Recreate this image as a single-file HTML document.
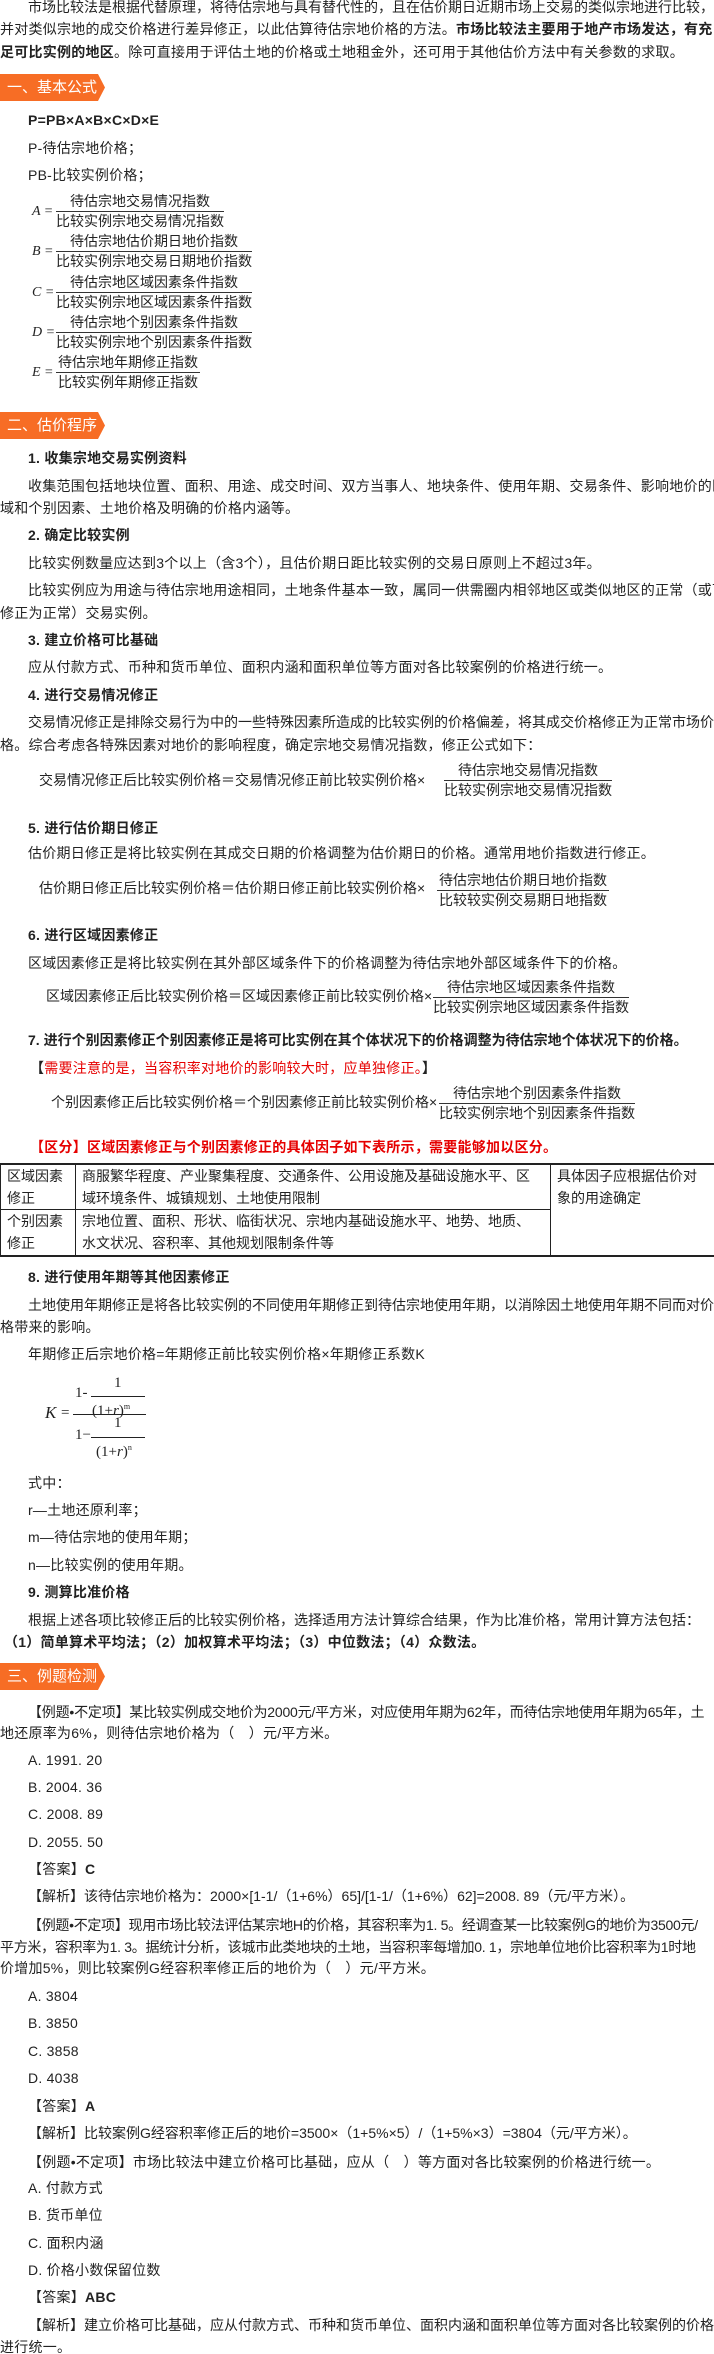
<!DOCTYPE html>
<html><head><meta charset="utf-8"><style>
body{margin:0;background:#fff;}
#p{position:relative;width:714px;height:2354px;overflow:hidden;font-family:"Liberation Sans","Noto Sans CJK SC",sans-serif;color:#222;}
.t{position:absolute;line-height:22px;white-space:nowrap;font-size:14px;letter-spacing:.25px;}
.b{font-weight:bold;}
.z{letter-spacing:0;}
.bn{position:absolute;left:0;width:105px;height:27px;background:#f76d25;clip-path:polygon(0 0,98px 0,105px 50%,98px 100%,0 100%);color:#fff;font-size:15px;line-height:27px;padding-left:7px;box-sizing:border-box;white-space:nowrap;}
.fr{position:absolute;display:inline-block;text-align:center;font-size:14px;white-space:nowrap;}
.fr div{line-height:19px;}
.fr .n{border-bottom:1px solid #333;padding:0 2px;}
.lab{position:absolute;font-family:"Liberation Serif",serif;font-style:italic;font-size:14px;line-height:20px;}
.red{color:#e60000;}
table{position:absolute;left:0;top:1163px;width:714px;border-collapse:collapse;font-size:14px;letter-spacing:0;table-layout:fixed;}
td{border:1px solid #222;line-height:22px;padding:0 6px;vertical-align:top;white-space:nowrap;overflow:hidden;}
.s{position:absolute;font-family:"Liberation Serif",serif;font-size:15px;line-height:16px;white-space:nowrap;}
</style></head><body><div id="p">

<div class="t z" style="left:28px;top:-4px">市场比较法是根据代替原理，将待估宗地与具有替代性的，且在估价期日近期市场上交易的类似宗地进行比较，</div>
<div class="t" style="left:0;top:18px">并对类似宗地的成交价格进行差异修正，以此估算待估宗地价格的方法。<b>市场比较法主要用于地产市场发达，有充</b></div>
<div class="t" style="left:0;top:41px"><b>足可比实例的地区</b>。除可直接用于评估土地的价格或土地租金外，还可用于其他估价方法中有关参数的求取。</div>

<div class="bn" style="top:74px">一、基本公式</div>
<div class="t b" style="left:28px;top:109px">P=PB×A×B×C×D×E</div>
<div class="t" style="left:28px;top:137px">P-待估宗地价格；</div>
<div class="t" style="left:28px;top:164px">PB-比较实例价格；</div>

<div class="lab" style="left:32px;top:202px">A =</div>
<div class="fr" style="left:56px;top:192px"><div class="n">待估宗地交易情况指数</div><div>比较实例宗地交易情况指数</div></div>
<div class="lab" style="left:32px;top:242px">B =</div>
<div class="fr" style="left:56px;top:232px"><div class="n">待估宗地估价期日地价指数</div><div>比较实例宗地交易日期地价指数</div></div>
<div class="lab" style="left:32px;top:283px">C =</div>
<div class="fr" style="left:56px;top:273px"><div class="n">待估宗地区域因素条件指数</div><div>比较实例宗地区域因素条件指数</div></div>
<div class="lab" style="left:32px;top:323px">D =</div>
<div class="fr" style="left:56px;top:313px"><div class="n">待估宗地个别因素条件指数</div><div>比较实例宗地个别因素条件指数</div></div>
<div class="lab" style="left:32px;top:363px">E =</div>
<div class="fr" style="left:56px;top:353px"><div class="n">待估宗地年期修正指数</div><div>比较实例年期修正指数</div></div>

<div class="bn" style="top:412px">二、估价程序</div>
<div class="t b" style="left:28px;top:447px">1. 收集宗地交易实例资料</div>
<div class="t" style="left:28px;top:475px">收集范围包括地块位置、面积、用途、成交时间、双方当事人、地块条件、使用年期、交易条件、影响地价的区</div>
<div class="t" style="left:0;top:497px">域和个别因素、土地价格及明确的价格内涵等。</div>
<div class="t b" style="left:28px;top:524px">2. 确定比较实例</div>
<div class="t" style="left:28px;top:552px">比较实例数量应达到3个以上（含3个），且估价期日距比较实例的交易日原则上不超过3年。</div>
<div class="t" style="left:28px;top:579px">比较实例应为用途与待估宗地用途相同，土地条件基本一致，属同一供需圈内相邻地区或类似地区的正常（或可</div>
<div class="t" style="left:0;top:602px">修正为正常）交易实例。</div>
<div class="t b" style="left:28px;top:629px">3. 建立价格可比基础</div>
<div class="t" style="left:28px;top:656px">应从付款方式、币种和货币单位、面积内涵和面积单位等方面对各比较案例的价格进行统一。</div>
<div class="t b" style="left:28px;top:684px">4. 进行交易情况修正</div>
<div class="t z" style="left:28px;top:711px">交易情况修正是排除交易行为中的一些特殊因素所造成的比较实例的价格偏差，将其成交价格修正为正常市场价</div>
<div class="t" style="left:0;top:734px">格。综合考虑各特殊因素对地价的影响程度，确定宗地交易情况指数，修正公式如下：</div>
<div class="t z" style="left:39px;top:769px">交易情况修正后比较实例价格＝交易情况修正前比较实例价格×</div>
<div class="fr" style="left:444px;top:761px"><div class="n">待估宗地交易情况指数</div><div>比较实例宗地交易情况指数</div></div>

<div class="t b" style="left:28px;top:817px">5. 进行估价期日修正</div>
<div class="t" style="left:28px;top:842px">估价期日修正是将比较实例在其成交日期的价格调整为估价期日的价格。通常用地价指数进行修正。</div>
<div class="t z" style="left:39px;top:877px">估价期日修正后比较实例价格＝估价期日修正前比较实例价格×</div>
<div class="fr" style="left:437px;top:871px"><div class="n">待估宗地估价期日地价指数</div><div>比较较实例交易期日地指数</div></div>

<div class="t b" style="left:28px;top:924px">6. 进行区域因素修正</div>
<div class="t" style="left:28px;top:952px">区域因素修正是将比较实例在其外部区域条件下的价格调整为待估宗地外部区域条件下的价格。</div>
<div class="t z" style="left:46px;top:985px">区域因素修正后比较实例价格＝区域因素修正前比较实例价格×</div>
<div class="fr" style="left:433px;top:978px"><div class="n">待估宗地区域因素条件指数</div><div>比较实例宗地区域因素条件指数</div></div>

<div class="t b z" style="left:28px;top:1029px">7. 进行个别因素修正个别因素修正是将可比实例在其个体状况下的价格调整为待估宗地个体状况下的价格。</div>
<div class="t b" style="left:30px;top:1057px">【<span class="red" style="font-weight:normal">需要注意的是，当容积率对地价的影响较大时，应单独修正。</span>】</div>
<div class="t z" style="left:51px;top:1091px">个别因素修正后比较实例价格＝个别因素修正前比较实例价格×</div>
<div class="fr" style="left:439px;top:1084px"><div class="n">待估宗地个别因素条件指数</div><div>比较实例宗地个别因素条件指数</div></div>

<div class="t b red" style="left:30px;top:1136px">【区分】区域因素修正与个别因素修正的具体因子如下表所示，需要能够加以区分。</div>

<table>
<colgroup><col style="width:75px"><col style="width:475px"><col style="width:164px"></colgroup>
<tr style="height:45px"><td style="border-top:2px solid #222">区域因素<br>修正</td><td style="border-top:2px solid #222">商服繁华程度、产业聚集程度、交通条件、公用设施及基础设施水平、区<br>域环境条件、城镇规划、土地使用限制</td><td rowspan="2" style="border-top:2px solid #222;border-bottom:2px solid #222">具体因子应根据估价对<br>象的用途确定</td></tr>
<tr style="height:46px"><td style="border-bottom:2px solid #222">个别因素<br>修正</td><td style="border-bottom:2px solid #222">宗地位置、面积、形状、临街状况、宗地内基础设施水平、地势、地质、<br>水文状况、容积率、其他规划限制条件等</td></tr>
</table>

<div class="t b" style="left:28px;top:1266px">8. 进行使用年期等其他因素修正</div>
<div class="t z" style="left:28px;top:1294px">土地使用年期修正是将各比较实例的不同使用年期修正到待估宗地使用年期，以消除因土地使用年期不同而对价</div>
<div class="t" style="left:0;top:1316px">格带来的影响。</div>
<div class="t" style="left:28px;top:1343px">年期修正后宗地价格=年期修正前比较实例价格×年期修正系数K</div>

<div class="s" style="left:45px;top:1405px;font-style:italic;font-size:17px">K</div>
<div class="s" style="left:61px;top:1405px">=</div>
<div style="position:absolute;left:73px;top:1414px;width:73px;border-top:1px solid #222"></div>
<div class="s" style="left:114px;top:1375px">1</div>
<div class="s" style="left:75px;top:1385px">1-</div>
<div style="position:absolute;left:91px;top:1396px;width:54px;border-top:1px solid #222"></div>
<div class="s" style="left:92px;top:1399px">(1+<i>r</i>)<sup style="font-size:8px">m</sup></div>
<div class="s" style="left:114px;top:1415px">1</div>
<div class="s" style="left:75px;top:1427px">1−</div>
<div style="position:absolute;left:91px;top:1437px;width:54px;border-top:1px solid #222"></div>
<div class="s" style="left:96px;top:1440px">(1+<i>r</i>)<sup style="font-size:8px">n</sup></div>

<div class="t" style="left:28px;top:1472px">式中：</div>
<div class="t" style="left:28px;top:1499px">r—土地还原利率；</div>
<div class="t" style="left:28px;top:1526px">m—待估宗地的使用年期；</div>
<div class="t" style="left:28px;top:1554px">n—比较实例的使用年期。</div>
<div class="t b" style="left:28px;top:1581px">9. 测算比准价格</div>
<div class="t z" style="left:28px;top:1609px">根据上述各项比较修正后的比较实例价格，选择适用方法计算综合结果，作为比准价格，常用计算方法包括：</div>
<div class="t b" style="left:4px;top:1631px">（1）简单算术平均法；（2）加权算术平均法；（3）中位数法；（4）众数法。</div>

<div class="bn" style="top:1663px">三、例题检测</div>
<div class="t z" style="left:28px;top:1701px;letter-spacing:-.2px">【例题•不定项】某比较实例成交地价为2000元/平方米，对应使用年期为62年，而待估宗地使用年期为65年，土</div>
<div class="t" style="left:0;top:1722px">地还原率为6%，则待估宗地价格为（　）元/平方米。</div>
<div class="t" style="left:28px;top:1749px">A. 1991. 20</div>
<div class="t" style="left:28px;top:1776px">B. 2004. 36</div>
<div class="t" style="left:28px;top:1803px">C. 2008. 89</div>
<div class="t" style="left:28px;top:1831px">D. 2055. 50</div>
<div class="t" style="left:28px;top:1858px">【答案】<b>C</b></div>
<div class="t z" style="left:28px;top:1885px">【解析】该待估宗地价格为：2000×[1-1/（1+6%）65]/[1-1/（1+6%）62]=2008. 89（元/平方米）。</div>
<div class="t z" style="left:28px;top:1914px;letter-spacing:-.3px">【例题•不定项】现用市场比较法评估某宗地H的价格，其容积率为1. 5。经调查某一比较案例G的地价为3500元/</div>
<div class="t z" style="left:0;top:1936px;letter-spacing:-.3px">平方米，容积率为1. 3。据统计分析，该城市此类地块的土地，当容积率每增加0. 1，宗地单位地价比容积率为1时地</div>
<div class="t" style="left:0;top:1957px">价增加5%，则比较案例G经容积率修正后的地价为（　）元/平方米。</div>
<div class="t" style="left:28px;top:1985px">A. 3804</div>
<div class="t" style="left:28px;top:2012px">B. 3850</div>
<div class="t" style="left:28px;top:2040px">C. 3858</div>
<div class="t" style="left:28px;top:2067px">D. 4038</div>
<div class="t" style="left:28px;top:2095px">【答案】<b>A</b></div>
<div class="t z" style="left:28px;top:2122px">【解析】比较案例G经容积率修正后的地价=3500×（1+5%×5）/（1+5%×3）=3804（元/平方米）。</div>
<div class="t" style="left:28px;top:2151px">【例题•不定项】市场比较法中建立价格可比基础，应从（　）等方面对各比较案例的价格进行统一。</div>
<div class="t" style="left:28px;top:2177px">A. 付款方式</div>
<div class="t" style="left:28px;top:2204px">B. 货币单位</div>
<div class="t" style="left:28px;top:2232px">C. 面积内涵</div>
<div class="t" style="left:28px;top:2259px">D. 价格小数保留位数</div>
<div class="t" style="left:28px;top:2286px">【答案】<b>ABC</b></div>
<div class="t z" style="left:28px;top:2314px">【解析】建立价格可比基础，应从付款方式、币种和货币单位、面积内涵和面积单位等方面对各比较案例的价格</div>
<div class="t" style="left:0;top:2336px">进行统一。</div>

</div></body></html>
